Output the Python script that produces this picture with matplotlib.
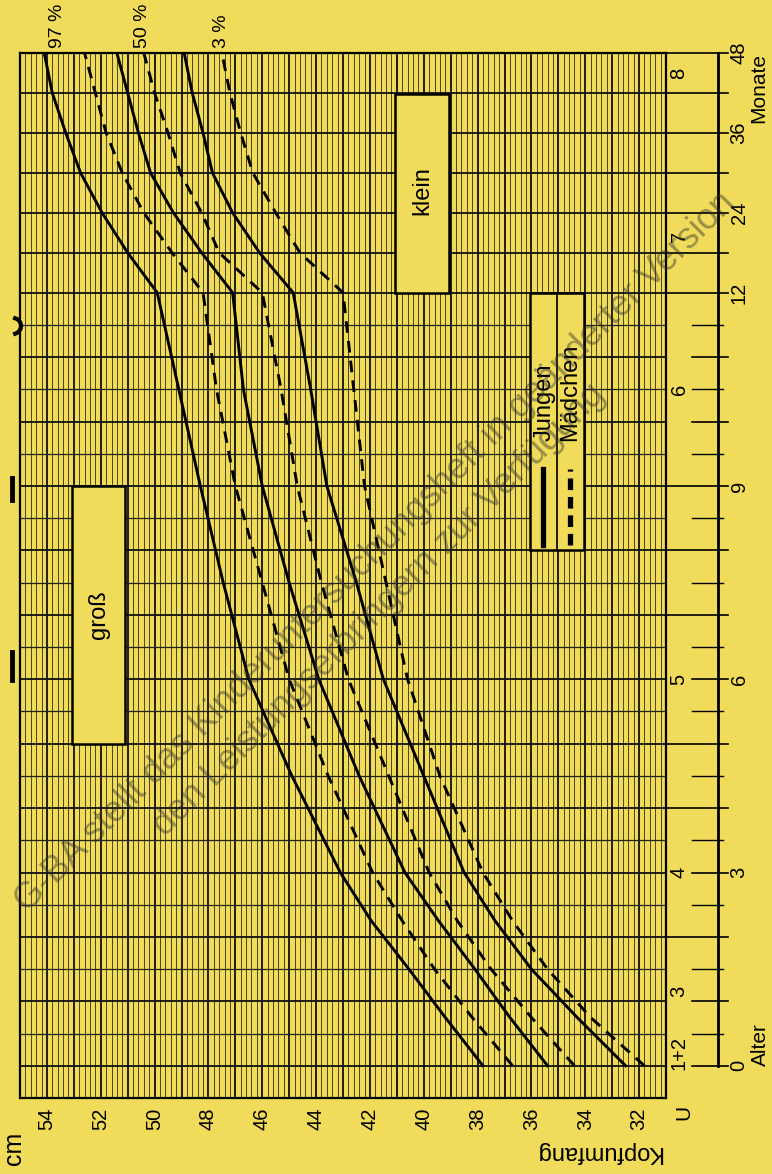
import numpy as np
import matplotlib.pyplot as plt
from matplotlib.patches import Rectangle
from matplotlib.lines import Line2D

plt.rcParams['font.family'] = ['Liberation Sans', 'DejaVu Sans']

# Daten (Kopfumfang in cm, Alter in Monaten)
alter = [0, 0.75, 1.5, 2.25, 3, 4.5, 6, 7.5, 9, 10.5, 12, 18, 24, 30, 36, 42, 48]
jungen_97 = [37.8, 39.2, 40.55, 41.95, 43.1, 44.9, 46.5, 47.45, 48.3, 49.1, 49.9, 51.0, 51.95, 52.75, 53.3, 53.8, 54.1]
jungen_50 = [35.4, 36.8, 38.1, 39.45, 40.7, 42.4, 43.9, 45.0, 46.0, 46.7, 47.1, 48.25, 49.3, 50.15, 50.6, 51.0, 51.4]
jungen_3 = [32.5, 34.3, 36.0, 37.35, 38.5, 40.0, 41.5, 42.5, 43.6, 44.2, 44.85, 46.1, 47.1, 47.85, 48.2, 48.6, 48.9]
maedchen_97 = [36.7, 38.2, 39.6, 40.8, 41.9, 43.55, 45.0, 46.0, 47.0, 47.7, 48.2, 49.35, 50.4, 51.2, 51.8, 52.2, 52.6]
maedchen_50 = [34.4, 36.0, 37.5, 38.75, 39.8, 41.3, 42.8, 43.8, 44.7, 45.3, 46.0, 47.6, 48.25, 49.05, 49.5, 50.0, 50.4]
maedchen_3 = [31.8, 33.8, 35.4, 36.7, 37.8, 39.4, 40.6, 41.4, 42.2, 42.6, 43.0, 44.6, 45.5, 46.35, 46.8, 47.2, 47.5]

cm_ticks = [32, 34, 36, 38, 40, 42, 44, 46, 48, 50, 52, 54]
monat_ticks = [0, 3, 6, 9, 12, 24, 36, 48]
u_labels = ['1+2', '3', '4', '5', '6', '7', '8']
u_alter = [0.2, 1.15, 3, 6, 10.5, 20.5, 45]
perz_labels = ['97 %', '50 %', '3 %']
perz_cm = [53.6, 50.45, 47.5]

GELB = '#f0dc5a'
R = 80 / 774  # ab 12 Monaten gestauchte Zeitachse


def fwd(a):
    a = np.asarray(a, float)
    return np.where(a <= 12, a, 12 + (a - 12) * R)


def inv(v):
    v = np.asarray(v, float)
    return np.where(v <= 12, v, 12 + (v - 12) / R)


W, H = 772, 1174
fig = plt.figure(figsize=(W / 100, H / 100), dpi=100)
fig.patch.set_facecolor(GELB)

ax = fig.add_axes([20 / W, 1 - 1098 / H, 646 / W, 1045 / H])
ax.set_facecolor(GELB)
ax.set_yscale('function', functions=(fwd, inv))
ax.set_xlim(55, 31)
ax.set_ylim(-0.5, 48)

# Raster
for c in np.arange(31, 55.01, 0.2):
    if abs(c - round(c)) < 1e-6:
        ax.axvline(c, color='#111111', lw=1.3, zorder=1)
    else:
        ax.axvline(c, color='#4a4418', lw=0.7, zorder=1)
for m in np.arange(-0.5, 12.01, 0.5):
    if m == int(m):
        ax.axhline(m, color='#111111', lw=1.3, zorder=1)
    else:
        ax.axhline(m, color='#222222', lw=0.9, zorder=1)
for m in range(18, 49, 6):
    ax.axhline(m, color='#111111', lw=1.3, zorder=1)
for s in ax.spines.values():
    s.set_linewidth(1.6)

# Kurven
kw = dict(color='black', lw=2.1, zorder=4)
dash = (0, (4, 2.8))
ax.plot(jungen_97, alter, **kw)
ax.plot(jungen_50, alter, **kw)
ax.plot(jungen_3, alter, **kw)
ax.plot(maedchen_97, alter, ls=dash, **kw)
ax.plot(maedchen_50, alter, ls=dash, **kw)
ax.plot(maedchen_3, alter, ls=dash, **kw)

# Kästen
box = dict(facecolor=GELB, edgecolor='black', lw=1.8, zorder=3)
ax.add_patch(Rectangle((51.1, 5), 1.95, 4, **box))
ax.text(52.07, 7, 'groß', rotation=90, ha='center', va='center', fontsize=17, zorder=5)
ax.add_patch(Rectangle((39.05, 12), 2.0, 29.8, **box))
ax.text(40.05, 27.3, 'klein', rotation=90, ha='center', va='center', fontsize=17, zorder=5)

# Legende
ax.add_patch(Rectangle((34.05, 8), 2.0, 4, **box))
ax.plot([35.05, 35.05], [8, 12], color='black', lw=1.2, zorder=4)
ax.plot([35.57, 35.57], [8.08, 9.27], color='black', lw=3.8, zorder=5)
ax.plot([34.57, 34.57], [8.08, 9.27], color='black', lw=3.8, ls=(0, (2.2, 1.3)), zorder=5)
ax.text(35.52, 9.7, 'Jungen', rotation=90, rotation_mode='anchor', ha='left', va='center',
        fontsize=17, zorder=5)
ax.text(34.55, 9.7, 'Mädchen', rotation=90, rotation_mode='anchor', ha='left', va='center',
        fontsize=17, zorder=5)

# Perzentilen oben
for lab, c in zip(perz_labels, perz_cm):
    ax.text(c, 1.005, lab, transform=ax.get_xaxis_transform(), rotation=90,
            rotation_mode='anchor', ha='left', va='center', fontsize=14)

ax.set_xticks(cm_ticks)
ax.set_xticklabels([str(c) for c in cm_ticks], rotation=90, fontsize=14.5)
ax.tick_params(axis='x', length=0, pad=7)
ax.set_yticks([])
ax.minorticks_off()

# rechte Alters-Skala
axr = fig.add_axes([666 / W, 1 - 1098 / H, 106 / W, 1045 / H], sharey=ax)
axr.set_xlim(666, 772)
axr.axis('off')
axr.plot([718, 718], [0, 48], color='black', lw=2, clip_on=False)
kurz = [0, 1, 3, 6, 10, 11]
for m in range(0, 13):
    x0 = 692 if m in kurz else 666
    axr.plot([x0, 728], [m, m], color='black', lw=1.2, clip_on=False)
for m in np.arange(0.5, 12, 0.5):
    if m != int(m):
        axr.plot([692, 723], [m, m], color='black', lw=1.0, clip_on=False)
for m in range(18, 49, 6):
    axr.plot([666, 728], [m, m], color='black', lw=1.2, clip_on=False)
for m in monat_ticks:
    axr.text(739, m, str(m), rotation=90, ha='center', va='center', fontsize=14.5)
for lab, m in zip(u_labels, u_alter):
    axr.text(679, m, lab, rotation=90, ha='center', va='center', fontsize=14.5)
axr.text(759, 48, 'Monate', rotation=90, rotation_mode='anchor', ha='right', va='center',
         fontsize=15)
axr.text(760, 0, 'Alter', rotation=90, rotation_mode='anchor', ha='left', va='center',
         fontsize=15)

# Beschriftung unten
fig.text(684 / W, 1 - 1112 / H, 'U', rotation=90, ha='center', va='center', fontsize=15)
fig.text(14 / W, 1 - 1148 / H, 'cm', rotation=90, ha='center', va='center', fontsize=18)
fig.text(598 / W, 1 - 1152 / H, 'Kopfumfang', rotation=180, ha='center', va='center', fontsize=17)

# angeschnittene Reste links oben
for y0, y1 in [(478, 500), (652, 680)]:
    fig.add_artist(Line2D([12 / W, 12 / W], [1 - y0 / H, 1 - y1 / H], color='black', lw=3.5))
t = np.linspace(-1.3, 1.3, 20)
fig.add_artist(Line2D((13 + 8 * np.cos(t)) / W, 1 - (326 + 8 * np.sin(t)) / H,
                      color='black', lw=3))

# Wasserzeichen
fig.text(375 / W, 1 - 552 / H, 'G-BA stellt das Kinderuntersuchungsheft in geänderter Version',
         rotation=45, rotation_mode='anchor', ha='center', va='center', fontsize=26,
         color='#303030', alpha=0.45, zorder=10)
fig.text(379 / W, 1 - 610 / H, 'den Leistungserbringern zur Verfügung',
         rotation=45, rotation_mode='anchor', ha='center', va='center', fontsize=26,
         color='#303030', alpha=0.45, zorder=10)

fig.savefig('out.png', dpi=100, facecolor=GELB)
